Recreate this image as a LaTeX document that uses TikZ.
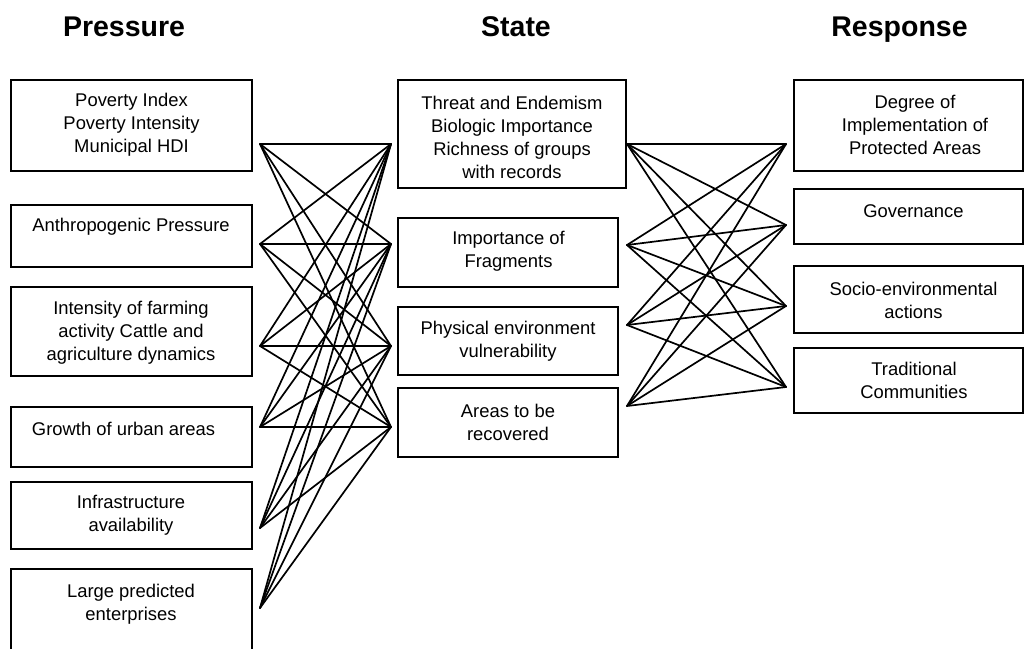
\documentclass[tikz,border=0pt]{standalone}
\usepackage{fontspec}
\setmainfont{Liberation Sans}
\begin{document}
\begin{tikzpicture}[x=1pt,y=-1pt,
  box/.style={draw, line width=1.8pt, inner sep=0pt, rectangle},
  txt/.style={font=\fontsize{18.4}{23}\selectfont, align=center, inner sep=0pt},
  head/.style={font=\fontsize{28.5}{34}\selectfont\bfseries, anchor=base, inner sep=0pt},
  link/.style={line width=1.7pt, line cap=round}]
\useasboundingbox (0,0) rectangle (1024,648);
% headers
\node[head] (hP) at (124,36) {Pressure};
\node[head] (hS) at (516,36) {State};
\node[head] (hR) at (899.5,36) {Response};
% left boxes
\node[box, minimum width=241, minimum height=91] (L1) at (131.5,125.5) {};
\node[box, minimum width=241, minimum height=62] (L2) at (131.5,236) {};
\node[box, minimum width=241, minimum height=89] (L3) at (131.5,331.5) {};
\node[box, minimum width=241, minimum height=60] (L4) at (131.5,437) {};
\node[box, minimum width=241, minimum height=67] (L5) at (131.5,515.5) {};
\node[box, minimum width=241, minimum height=91] (L6) at (131.5,614.5) {};
\node[txt] (tL1) at (131.5,125) {Poverty Index\\Poverty Intensity\\Municipal HDI};
\node[txt] (tL2) at (131,227) {Anthropogenic Pressure};
\node[txt] (tL3) at (131,333) {Intensity of farming\\activity Cattle and\\agriculture dynamics};
\node[txt] (tL4) at (123.5,429) {Growth of urban areas};
\node[txt] (tL5) at (131,515.5) {Infrastructure\\availability};
\node[txt] (tL6) at (131,604) {Large predicted\\enterprises};
% middle boxes
\node[box, minimum width=228, minimum height=108] (M1) at (512,134) {};
\node[box, minimum width=220, minimum height=69] (M2) at (508,252.5) {};
\node[box, minimum width=220, minimum height=68] (M3) at (508,341) {};
\node[box, minimum width=220, minimum height=69] (M4) at (508,422.5) {};
\node[txt] (tM1) at (512,137) {Threat and Endemism\\Biologic Importance\\Richness of groups\\with records};
\node[txt] (tM2) at (508.5,251.5) {Importance of\\Fragments};
\node[txt] (tM3) at (508,341.5) {Physical environment\\vulnerability};
\node[txt] (tM4) at (508,422) {Areas to be\\recovered};
% right boxes
\node[box, minimum width=229, minimum height=91] (R1) at (908.5,125.5) {};
\node[box, minimum width=229, minimum height=55] (R2) at (908.5,216.5) {};
\node[box, minimum width=229, minimum height=67] (R3) at (908.5,299.5) {};
\node[box, minimum width=229, minimum height=65] (R4) at (908.5,380.5) {};
\node[txt] (tR1) at (915,125) {Degree of\\Implementation of\\Protected Areas};
\node[txt] (tR2) at (913.5,211) {Governance};
\node[txt] (tR3) at (913.5,300) {Socio-environmental\\actions};
\node[txt] (tR4) at (914,380) {Traditional\\Communities};
% connection points
\coordinate (p1) at (260,144);
\coordinate (p2) at (260,244);
\coordinate (p3) at (260,346);
\coordinate (p4) at (260,427);
\coordinate (p5) at (260,528);
\coordinate (p6) at (260,608);
\coordinate (sl1) at (391,144);
\coordinate (sl2) at (391,244);
\coordinate (sl3) at (391,346);
\coordinate (sl4) at (391,427);
\coordinate (sr1) at (627,144);
\coordinate (sr2) at (627,245);
\coordinate (sr3) at (627,325);
\coordinate (sr4) at (627,406);
\coordinate (r1) at (786,144);
\coordinate (r2) at (786,225);
\coordinate (r3) at (786,306);
\coordinate (r4) at (786,387);
% links
\foreach \i in {1,...,6}{
  \foreach \j in {1,...,4}{
    \draw[link] (p\i) -- (sl\j);
  }
}
\foreach \i in {1,...,4}{
  \foreach \j in {1,...,4}{
    \draw[link] (sr\i) -- (r\j);
  }
}
\end{tikzpicture}
\end{document}
